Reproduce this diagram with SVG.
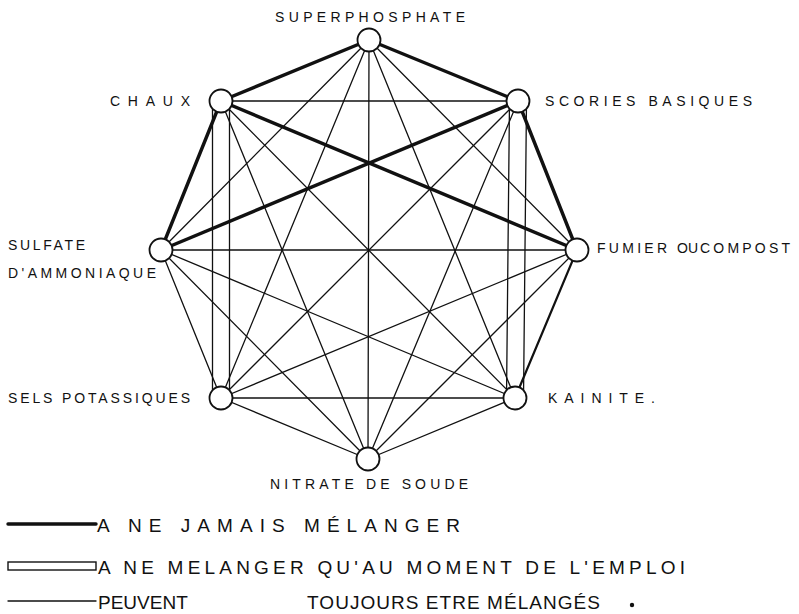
<svg xmlns="http://www.w3.org/2000/svg" width="799" height="614" viewBox="0 0 799 614">
<style>
  .thin { stroke:#111; stroke-width:1.3; fill:none; stroke-linecap:round; }
  .thick { stroke:#111; stroke-width:3.4; fill:none; stroke-linecap:round; }
  .med { stroke:#111; stroke-width:2.2; fill:none; stroke-linecap:round; }
  .node { fill:#fff; stroke:#111; stroke-width:1.8; }
  .lbl { font-family:"Liberation Sans", Arial, sans-serif; font-size:14px; fill:#111; }
  .leg { font-family:"Liberation Sans", Arial, sans-serif; font-size:19px; fill:#111; }
</style>
<rect width="799" height="614" fill="#fff"/>
<g id="connectors">
  <line class="thick" x1="369" y1="40" x2="221" y2="101"/>
  <line class="thick" x1="369" y1="40" x2="518" y2="101"/>
  <line class="thin" x1="369" y1="40" x2="577" y2="250"/>
  <line class="thin" x1="369" y1="40" x2="515" y2="398"/>
  <line class="thin" x1="369" y1="40" x2="368" y2="459"/>
  <line class="thin" x1="369" y1="40" x2="221" y2="398"/>
  <line class="thin" x1="369" y1="40" x2="161" y2="250"/>
  <line class="thin" x1="518" y1="101" x2="221" y2="101"/>
  <line class="thick" x1="518" y1="101" x2="577" y2="250"/>
  <line class="thin" x1="509.5" y1="101" x2="506.5" y2="398"/>
  <line class="thin" x1="526.5" y1="101" x2="523.5" y2="398"/>
  <line class="thin" x1="518" y1="101" x2="368" y2="459"/>
  <line class="thin" x1="518" y1="101" x2="221" y2="398"/>
  <line class="thick" x1="518" y1="101" x2="161" y2="250"/>
  <line class="thick" x1="577" y1="250" x2="221" y2="101"/>
  <line class="med" x1="577" y1="250" x2="515" y2="398"/>
  <line class="thin" x1="577" y1="250" x2="368" y2="459"/>
  <line class="thin" x1="577" y1="250" x2="221" y2="398"/>
  <line class="thin" x1="577" y1="250" x2="161" y2="250"/>
  <line class="thin" x1="515" y1="398" x2="221" y2="101"/>
  <line class="thin" x1="515" y1="398" x2="368" y2="459"/>
  <line class="thin" x1="515" y1="398" x2="221" y2="398"/>
  <line class="thin" x1="515" y1="398" x2="161" y2="250"/>
  <line class="thin" x1="368" y1="459" x2="221" y2="101"/>
  <line class="thin" x1="368" y1="459" x2="221" y2="398"/>
  <line class="thin" x1="368" y1="459" x2="161" y2="250"/>
  <line class="thin" x1="212.5" y1="101" x2="212.5" y2="398"/>
  <line class="thin" x1="229.5" y1="101" x2="229.5" y2="398"/>
  <line class="thin" x1="221" y1="398" x2="161" y2="250"/>
  <line class="thick" x1="161" y1="250" x2="221" y2="101"/>
</g>
<g id="n-superphosphate">
  <circle class="node" cx="369" cy="40" r="11.5"/>
  <text class="lbl" x="275" y="22" font-size="11" textLength="190" lengthAdjust="spacing">SUPERPHOSPHATE</text>
</g>
<g id="n-chaux">
  <circle class="node" cx="221" cy="101" r="11.5"/>
  <text class="lbl" x="110" y="106" textLength="80" lengthAdjust="spacing">CHAUX</text>
</g>
<g id="n-scories">
  <circle class="node" cx="518" cy="101" r="11.5"/>
  <text class="lbl" x="545" y="106" textLength="207" lengthAdjust="spacing">SCORIES BASIQUES</text>
</g>
<g id="n-fumier">
  <circle class="node" cx="577" cy="250" r="11.5"/>
  <text class="lbl" x="597" y="253" textLength="70" lengthAdjust="spacing">FUMIER</text>
  <text class="lbl" x="677" y="253" font-size="10">OU</text>
  <text class="lbl" x="700" y="253" textLength="90" lengthAdjust="spacing">COMPOST</text>
</g>
<g id="n-sulfate">
  <circle class="node" cx="161" cy="250" r="11.5"/>
  <text class="lbl" x="8" y="250" textLength="77" lengthAdjust="spacing">SULFATE</text>
  <text class="lbl" x="8" y="278" textLength="148" lengthAdjust="spacing">D'AMMONIAQUE</text>
</g>
<g id="n-sels">
  <circle class="node" cx="221" cy="398" r="11.5"/>
  <text class="lbl" x="8" y="403" textLength="182" lengthAdjust="spacing">SELS POTASSIQUES</text>
</g>
<g id="n-kainite">
  <circle class="node" cx="515" cy="398" r="11.5"/>
  <text class="lbl" x="548" y="403" textLength="107" lengthAdjust="spacing">KAINITE.</text>
</g>
<g id="n-nitrate">
  <circle class="node" cx="368" cy="459" r="11.5"/>
  <text class="lbl" x="270" y="489" textLength="198" lengthAdjust="spacing">NITRATE DE SOUDE</text>
</g>
<g id="legend">
  <line class="thick" x1="8" y1="524" x2="96" y2="524"/>
  <text class="leg" x="97" y="532" textLength="363" lengthAdjust="spacing">A NE  JAMAIS  MÉLANGER</text>
  <rect x="8" y="562" width="88" height="8" fill="#fff" stroke="#111" stroke-width="1.4"/>
  <text class="leg" x="98" y="574" textLength="587" lengthAdjust="spacing">A NE MELANGER  QU'AU  MOMENT  DE  L'EMPLOI</text>
  <line class="thin" x1="8" y1="601" x2="96" y2="601"/>
  <text class="leg" x="98" y="609">PEUVENT</text>
  <text class="leg" x="307" y="609" textLength="293" lengthAdjust="spacing">TOUJOURS  ETRE  MÉLANGÉS</text>
  <circle cx="632" cy="605" r="2.2" fill="#111"/>
</g>
</svg>
